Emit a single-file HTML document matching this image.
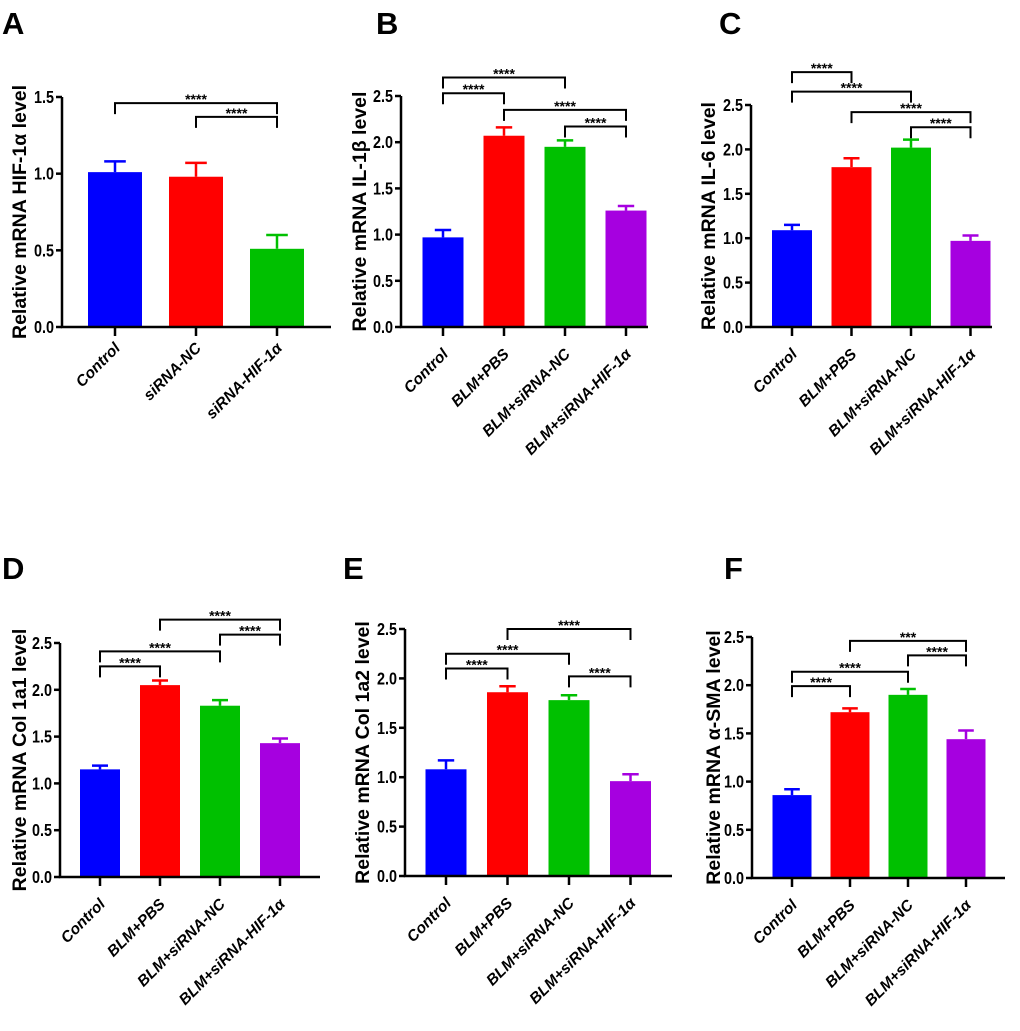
<!DOCTYPE html>
<html><head><meta charset="utf-8"><style>
body{margin:0;background:#fff}
svg{display:block;font-family:"Liberation Sans",Arial,sans-serif}
</style></head><body>
<svg id="fig" width="1020" height="1031" viewBox="0 0 1020 1031"></svg>
<script>
// ---- data ----
const catsA = ["Control","siRNA-NC","siRNA-HIF-1\u03b1"];
const cats4 = ["Control","BLM+PBS","BLM+siRNA-NC","BLM+siRNA-HIF-1\u03b1"];
const valsA = [1.01,0.98,0.51];   const errA = [0.07,0.09,0.09];
const valsB = [0.97,2.07,1.95,1.26]; const errB = [0.08,0.09,0.07,0.05];
const valsC = [1.09,1.80,2.02,0.97]; const errC = [0.06,0.10,0.09,0.06];
const valsD = [1.15,2.05,1.83,1.43]; const errD = [0.04,0.05,0.06,0.05];
const valsE = [1.08,1.86,1.78,0.96]; const errE = [0.09,0.06,0.05,0.07];
const valsF = [0.86,1.72,1.90,1.44]; const errF = [0.06,0.04,0.06,0.09];
const ticksA = [0,0.5,1.0,1.5];
const ticks25 = [0,0.5,1.0,1.5,2.0,2.5];
// brackets: [from index, to index, level(data units), label]
const brA = [[0,2,1.46,"****"],[1,2,1.37,"****"]];
const brB = [[0,2,2.70,"****"],[0,1,2.53,"****"],[1,3,2.35,"****"],[2,3,2.17,"****"]];
const brC = [[0,1,2.87,"****"],[0,2,2.65,"****"],[1,3,2.42,"****"],[2,3,2.25,"****"]];
const brD = [[1,3,2.75,"****"],[2,3,2.59,"****"],[0,2,2.41,"****"],[0,1,2.25,"****"]];
const brE = [[1,3,2.50,"****"],[0,2,2.25,"****"],[0,1,2.10,"****"],[2,3,2.02,"****"]];
const brF = [[1,3,2.46,"***"],[2,3,2.31,"****"],[0,2,2.14,"****"],[0,1,1.99,"****"]];
const colors = ["#0000ff","#ff0000","#00c000","#a600e0"];

const NS="http://www.w3.org/2000/svg";
const svg=document.getElementById('fig');
function mk(tag,attrs,parent,txt){const e=document.createElementNS(NS,tag);for(const k in attrs)e.setAttribute(k,attrs[k]);if(txt!==undefined)e.textContent=txt;(parent||svg).appendChild(e);return e;}

function panel(cfg){
  const g=mk('g',{});
  
  
  const ymax=cfg.ticks[cfg.ticks.length-1];
  const ys=v=>cfg.y0-(v/ymax)*(cfg.y0-cfg.ytop);
  const xs=i=>cfg.x0+cfg.first+i*cfg.step;
  const L=mk('text',{x:cfg.lx,y:cfg.ly,'font-size':31,'font-weight':'bold'},g,cfg.id);
  
  
  cfg.vals.forEach((v,i)=>{
    const cx=xs(i),w=cfg.bw;
    const r=mk('rect',{x:cx-w/2,y:ys(v),width:w,height:cfg.y0-ys(v),fill:colors[i]},g);
    
    
    const e=cfg.err[i],yt=ys(v+e);
    const eb=mk('path',{d:`M${cx} ${ys(v)}V${yt}M${cx-w*0.2} ${yt}H${cx+w*0.2}`,stroke:colors[i],'stroke-width':2.5,fill:'none'},g);
    
    
  });
  const ax=mk('path',{d:`M${cfg.x0} ${cfg.ytop}V${cfg.y0}H${cfg.xend}`,stroke:'#000','stroke-width':2.5,fill:'none'},g);
  
  
  cfg.ticks.forEach(t=>{
    mk('path',{d:`M${cfg.x0-6} ${ys(t)}H${cfg.x0}`,stroke:'#000','stroke-width':2.5},g);
    const tx=cfg.x0-8, ty=ys(t);
    const tl=mk('text',{x:0,y:6,'font-size':18,'font-weight':'bold','text-anchor':'end',transform:`translate(${tx} ${ty}) scale(0.8 1)`},g,t.toFixed(1));
    
    
  });
  cfg.cats.forEach((c,i)=>{
    const cx=xs(i);
    mk('path',{d:`M${cx} ${cfg.y0}V${cfg.y0+9}`,stroke:'#000','stroke-width':2.5},g);
    const tx=cx+6,ty=cfg.y0+cfg.lo;
    const xl=mk('text',{x:tx,y:ty,'font-size':15.5,'font-weight':'bold','font-style':'italic','text-anchor':'end',transform:`rotate(-45 ${tx} ${ty})`},g,c);
    
    
  });
  const ym=(cfg.y0+cfg.ytop)/2;
  const yt=mk('text',{x:cfg.tx,y:ym,'font-size':19.5,'font-weight':'bold','text-anchor':'middle',transform:`rotate(-90 ${cfg.tx} ${ym})`},g,cfg.title);
  
  
  cfg.br.forEach(b=>{
    const x1=xs(b[0]),x2=xs(b[1]),y=ys(b[2]);
    const p=mk('path',{d:`M${x1} ${y+11}V${y}H${x2}V${y+11}`,stroke:'#000','stroke-width':2,fill:'none'},g);
    
    
    const s=mk('text',{x:(x1+x2)/2,y:y+1,'font-size':14,'font-weight':'bold','text-anchor':'middle'},g,b[3]);
    
    
  });
}

panel({id:'A',lx:2,ly:34,cats:catsA,vals:valsA,err:errA,ticks:ticksA,br:brA,x0:62,xend:331,y0:327,ytop:97,first:53,step:81,bw:54,tx:26,lo:22,title:'Relative mRNA HIF-1\u03b1 level'});
panel({id:'B',lx:376,ly:34,cats:cats4,vals:valsB,err:errB,ticks:ticks25,br:brB,x0:401,xend:648,y0:327,ytop:96,first:42,step:61,bw:41,tx:366,lo:28,title:'Relative mRNA IL-1\u03b2 level'});
panel({id:'C',lx:719,ly:34,cats:cats4,vals:valsC,err:errC,ticks:ticks25,br:brC,x0:751,xend:992,y0:327,ytop:105,first:41,step:59.5,bw:40,tx:715,lo:28,title:'Relative mRNA IL-6 level'});
panel({id:'D',lx:2,ly:579,cats:cats4,vals:valsD,err:errD,ticks:ticks25,br:brD,x0:60,xend:320,y0:877,ytop:643,first:40,step:60,bw:40,tx:26,lo:28,title:'Relative mRNA Col 1a1 level'});
panel({id:'E',lx:343,ly:579,cats:cats4,vals:valsE,err:errE,ticks:ticks25,br:brE,x0:405,xend:672,y0:876,ytop:629,first:41,step:61.5,bw:41,tx:369,lo:28,title:'Relative mRNA Col 1a2 level'});
panel({id:'F',lx:724,ly:579,cats:cats4,vals:valsF,err:errF,ticks:ticks25,br:brF,x0:752,xend:1005,y0:878,ytop:637,first:40,step:58,bw:39,tx:720,lo:28,title:'Relative mRNA \u03b1-SMA level'});
</script>
</body></html>
